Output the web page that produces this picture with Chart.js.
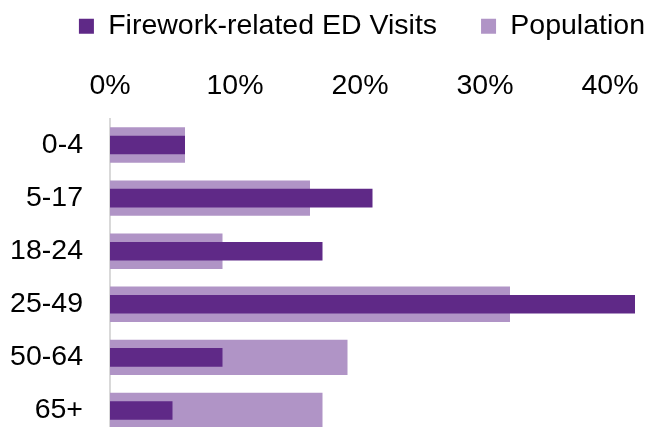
<!DOCTYPE html>
<html>
<head>
<meta charset="utf-8">
<script src="https://cdn.jsdelivr.net/npm/chart.js@4"></script>
<style>
html, body { margin: 0; padding: 0; width: 652px; height: 427px; overflow: hidden; background: #fff; position: relative; }
#wrap { position: absolute; left: 0; top: -32px; width: 689px; height: 472px; }
</style>
</head>
<body>
<div id="wrap"><canvas id="c"></canvas></div>
<script>
const categories = ['0-4', '5-17', '18-24', '25-49', '50-64', '65+'];
const edVisits = [6, 21, 17, 42, 9, 5];
const population = [6, 16, 9, 32, 19, 17];
const xTickValues = [0, 10, 20, 30, 40];
const seriesNames = ['Firework-related ED Visits', 'Population'];

const FONT = '"Liberation Sans", Arial, sans-serif';

new Chart(document.getElementById('c'), {
  type: 'bar',
  data: {
    labels: categories,
    datasets: [
      {
        label: seriesNames[0],
        data: edVisits,
        backgroundColor: '#5f2987',
        borderWidth: 0,
        grouped: false,
        barPercentage: 0.35,
        categoryPercentage: 1
      },
      {
        label: seriesNames[1],
        data: population,
        backgroundColor: '#b094c6',
        borderWidth: 0,
        grouped: false,
        barPercentage: 0.667,
        categoryPercentage: 1
      }
    ]
  },
  options: {
    indexAxis: 'y',
    responsive: true,
    maintainAspectRatio: false,
    animation: false,
    layout: { padding: { left: 8, right: 0, top: 0, bottom: 3 } },
    plugins: {
      tooltip: { enabled: false },
      legend: {
        position: 'top',
        align: 'end',
        labels: {
          font: { family: FONT, size: 28.5 },
          color: '#000',
          boxWidth: 15,
          boxHeight: 15,
          padding: 44
        }
      }
    },
    scales: {
      x: {
        position: 'top',
        min: 0,
        max: 46.32,
        grid: { display: false, drawTicks: false },
        border: { display: false },
        afterBuildTicks: (scale) => {
          scale.ticks = xTickValues.map(v => ({ value: v }));
        },
        afterFit: (scale) => { scale.height = 68; },
        ticks: {
          padding: 15,
          color: '#000',
          font: { family: FONT, size: 28.5 },
          callback: (v) => v + '%'
        }
      },
      y: {
        grid: { display: false, drawTicks: false },
        border: { display: true, color: '#d9d9d9', width: 2 },
        afterFit: (scale) => {
          scale.width = 102;
          scale.paddingTop = 0;
          scale.paddingBottom = 0;
        },
        ticks: {
          autoSkip: false,
          padding: 27,
          color: '#000',
          font: { family: FONT, size: 28.5 }
        }
      }
    }
  }
});
</script>
</body>
</html>
